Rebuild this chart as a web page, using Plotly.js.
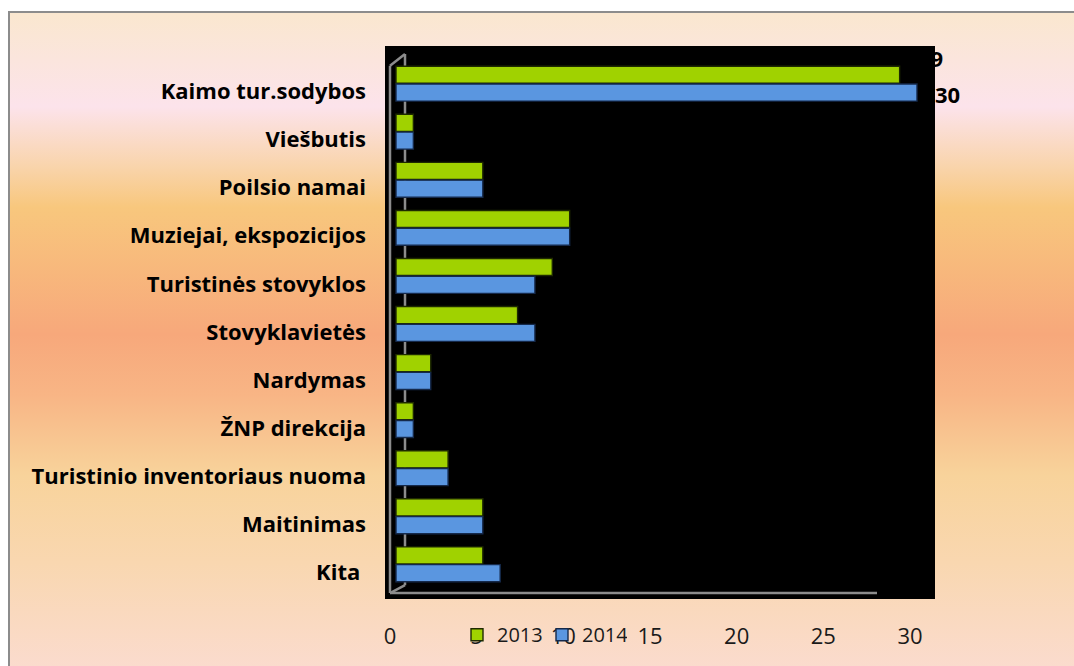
<!DOCTYPE html>
<html>
<head>
<meta charset="utf-8">
<script src="https://cdn.plot.ly/plotly-3.0.1.min.js"></script>
<style>
  html, body { margin: 0; padding: 0; background: #ffffff; width: 1074px; height: 666px; overflow: hidden; }
  #bg {
    position: absolute; left: 8px; top: 11px; width: 1080px; height: 670px;
    border-left: 2px solid #8c8c8c; border-top: 2px solid #8c8c8c;
    background: linear-gradient(to bottom,
      #fae7cf 0%, #fce3eb 14%, #f9d4ab 23%, #f8c77d 29%, #f7a87b 48%,
      #f8b585 57%, #f8d39b 69%, #f9d7b0 82%, #fbdcd2 100%);
  }
  #chart { position: absolute; left: 0; top: 0; width: 1074px; height: 666px; }
</style>
</head>
<body>
<div id="bg"></div>
<div id="chart"></div>
<script>
// ---- data ----
const categories = [
  "Kaimo tur.sodybos",
  "Viešbutis",
  "Poilsio namai",
  "Muziejai, ekspozicijos",
  "Turistinės stovyklos",
  "Stovyklavietės",
  "Nardymas",
  "ŽNP direkcija",
  "Turistinio inventoriaus nuoma",
  "Maitinimas",
  "Kita "
];
const values2013 = [29, 1, 5, 10, 9, 7, 2, 1, 3, 5, 5];
const values2014 = [30, 1, 5, 10, 8, 8, 2, 1, 3, 5, 6];
const seriesNames = ["2013", "2014"];
const xTickValues = [0, 5, 10, 15, 20, 25, 30];

// ---- layout geometry (pixels) ----
const W = 1074, H = 666;
const plotL = 385, plotR = 935, plotT = 46, plotB = 604;
const px = v => (v - plotL) / (plotR - plotL);
const py = v => (plotB - v) / (plotB - plotT);

const green = "#a0d200", blue = "#5a96e0";
const wall = "#8c8c8c";
const labelFont = "'Open Sans', 'Noto Sans', sans-serif";

const traces = [
  { // invisible carrier for the category / value axes
    type: "scatter", mode: "markers",
    x: categories.map(() => 0), y: categories,
    marker: { opacity: 0 }, showlegend: false, hoverinfo: "skip",
    xaxis: "x", yaxis: "y"
  },
  {
    type: "bar", orientation: "h", name: seriesNames[0],
    x: values2013, y: categories, xaxis: "x2", yaxis: "y2",
    marker: { color: green, line: { color: "#1e2a00", width: 1.4 } }
  },
  {
    type: "bar", orientation: "h", name: seriesNames[1],
    x: values2014, y: categories, xaxis: "x2", yaxis: "y2",
    marker: { color: blue, line: { color: "#15294a", width: 1.4 } }
  }
];

const layout = {
  width: W, height: H,
  margin: { l: plotL, r: W - plotR, t: plotT, b: H - plotB, pad: 0 },
  paper_bgcolor: "rgba(0,0,0,0)",
  plot_bgcolor: "#000000",
  barmode: "group", bargap: 0.26, bargroupgap: 0.04,
  font: { family: labelFont, color: "#111111", size: 20 },
  xaxis: {
    range: [-5 * 30 / 520, (plotR - 390) * 30 / 520],
    tickvals: xTickValues, ticks: "", showgrid: false, zeroline: false, showline: false,
    ticklabelstandoff: 22, tickfont: { size: 22, color: "#1a1a1a" }, fixedrange: true
  },
  yaxis: {
    type: "category", categoryorder: "array", categoryarray: categories,
    range: [(plotB - 92) / 48.5, (plotT - 92) / 48.5],
    ticks: "", showgrid: false, zeroline: false, showline: false,
    ticklabelstandoff: 18, tickfont: { size: 22, color: "#000000", weight: "bold" }, fixedrange: true
  },
  xaxis2: {
    overlaying: "x", anchor: "y2", visible: false,
    range: [(plotL - 396) / (521 / 30), (plotR - 396) / (521 / 30)], fixedrange: true
  },
  yaxis2: {
    overlaying: "y", anchor: "x2", visible: false,
    type: "category", categoryorder: "array", categoryarray: categories,
    range: [(plotB - 84) / 48.5, (plotT - 84) / 48.5], fixedrange: true
  },
  showlegend: true,
  legend: {
    orientation: "h", x: px(457), xanchor: "left", y: py(640), yanchor: "middle",
    bgcolor: "rgba(0,0,0,0)", font: { size: 20, color: "#1a1a1a" },
    itemwidth: 30, traceorder: "normal", entrywidth: 40, entrywidthmode: "pixels"
  },
  annotations: [
    { xref: "x2", yref: "y2", x: values2013[0], y: categories[0], text: String(values2013[0]),
      showarrow: false, xanchor: "left", xshift: 16, yshift: 26,
      font: { size: 22, color: "#000000", weight: "bold" } },
    { xref: "x2", yref: "y2", x: values2014[0], y: categories[0], text: String(values2014[0]),
      showarrow: false, xanchor: "left", xshift: 16, yshift: -10,
      font: { size: 22, color: "#000000", weight: "bold" } }
  ],
  shapes: [
    // 3D wall / floor edges
    { type: "line", xref: "paper", yref: "paper", x0: px(390), y0: py(66), x1: px(390), y1: py(598), line: { color: wall, width: 2.5 }, layer: "below" },
    { type: "line", xref: "paper", yref: "paper", x0: px(390), y0: py(66), x1: px(405), y1: py(54), line: { color: wall, width: 2.5 }, layer: "below" },
    { type: "line", xref: "paper", yref: "paper", x0: px(405), y0: py(54), x1: px(405), y1: py(590), line: { color: wall, width: 2.5 }, layer: "below" },
    { type: "line", xref: "paper", yref: "paper", x0: px(390), y0: py(598), x1: px(405), y1: py(590), line: { color: wall, width: 2.5 }, layer: "below" },
    { type: "line", xref: "paper", yref: "paper", x0: px(390), y0: py(598), x1: px(877), y1: py(598), line: { color: wall, width: 2.5 }, layer: "below" }
  ]
};

Plotly.newPlot("chart", traces, layout, { displayModeBar: false, staticPlot: true });
</script>
</body>
</html>
